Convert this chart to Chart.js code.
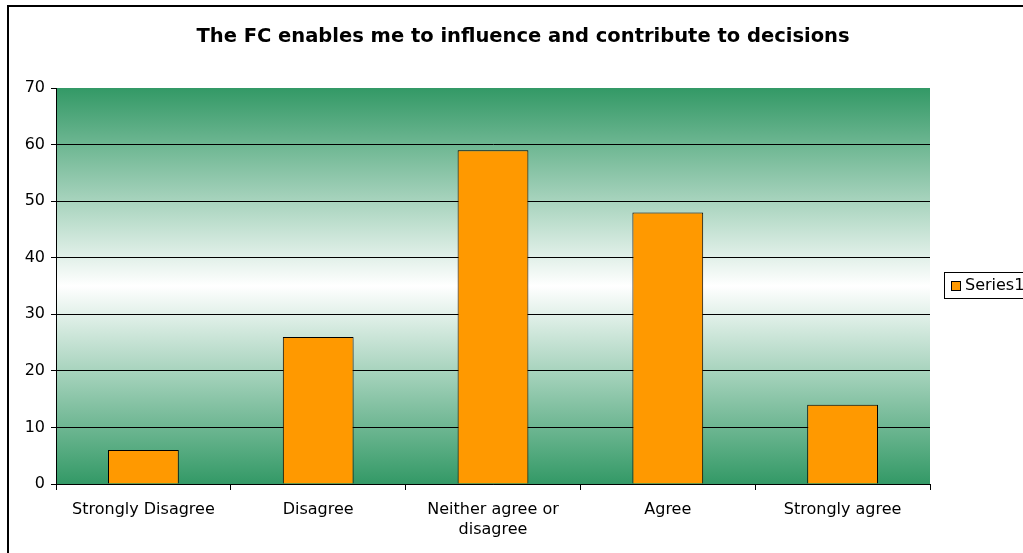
<!DOCTYPE html>
<html>
<head>
<meta charset="utf-8">
<script src="https://cdn.jsdelivr.net/npm/chart.js@4.4.1/dist/chart.umd.min.js"></script>
<style>
  html, body { margin: 0; padding: 0; background: #fff; }
  #wrap { position: relative; width: 1023px; height: 553px; }
</style>
</head>
<body>
<div id="wrap"><canvas id="c" width="1023" height="553"></canvas></div>
<script>
const TITLE = 'The FC enables me to influence and contribute to decisions';
const categories = ['Strongly Disagree', 'Disagree', ['Neither agree or', 'disagree'], 'Agree', 'Strongly agree'];
const seriesName = 'Series1';
const seriesValues = [6, 26, 59, 48, 14];
const yTicks = [0, 10, 20, 30, 40, 50, 60, 70];

const FONT = '"DejaVu Sans", Verdana, sans-serif';
const GREEN = 'rgb(51,153,102)';
const ORANGE = '#ff9900';

const decorPlugin = {
  id: 'decor',
  beforeDraw(chart) {
    const { ctx, chartArea: a } = chart;
    ctx.save();
    ctx.fillStyle = '#fff';
    ctx.fillRect(0, 0, chart.width, chart.height);
    const g = ctx.createLinearGradient(0, a.top, 0, a.bottom);
    g.addColorStop(0, GREEN);
    g.addColorStop(0.5, '#ffffff');
    g.addColorStop(1, GREEN);
    ctx.fillStyle = g;
    ctx.fillRect(a.left, a.top, a.right - a.left, a.bottom - a.top);
    ctx.restore();
  },
  afterDraw(chart) {
    const { ctx } = chart;
    ctx.save();
    // outer chart border
    ctx.strokeStyle = '#000';
    ctx.lineWidth = 2;
    ctx.strokeRect(8, 6, 2000, 2000);
    // title
    ctx.fillStyle = '#000';
    ctx.font = 'bold 19.5px ' + FONT;
    ctx.textAlign = 'center';
    ctx.textBaseline = 'middle';
    ctx.fillText(TITLE, 523, 37);
    // legend
    ctx.lineWidth = 1;
    ctx.strokeStyle = '#000';
    ctx.strokeRect(944.5, 272.5, 200, 26);
    ctx.fillStyle = ORANGE;
    ctx.fillRect(951.5, 281.5, 9, 9);
    ctx.strokeRect(951.5, 281.5, 9, 9);
    ctx.fillStyle = '#000';
    ctx.font = '16px ' + FONT;
    ctx.textAlign = 'left';
    ctx.fillText(chart.data.datasets[0].label, 965, 286);
    ctx.restore();
  }
};

new Chart(document.getElementById('c'), {
  type: 'bar',
  data: {
    labels: categories,
    datasets: [{
      label: seriesName,
      data: seriesValues,
      backgroundColor: ORANGE,
      borderColor: '#000',
      borderWidth: 1,
      barPercentage: 0.405,
      categoryPercentage: 1
    }]
  },
  options: {
    responsive: false,
    animation: false,
    layout: { padding: { left: 0, right: 93, top: 88, bottom: 0 } },
    plugins: {
      legend: { display: false },
      title: { display: false },
      tooltip: { enabled: false }
    },
    scales: {
      x: {
        grid: { offset: true, drawOnChartArea: false, drawTicks: true, tickLength: 6, color: '#000' },
        border: { color: '#000', width: 1 },
        ticks: { color: '#000', font: { family: FONT, size: 16, lineHeight: 1.3 }, padding: 9, maxRotation: 0, autoSkip: false },
        afterFit(s) { s.height = 69; }
      },
      y: {
        min: 0, max: 70,
        afterBuildTicks(s) { s.ticks = yTicks.map(v => ({ value: v })); },
        grid: {
          color: ctx => (ctx.tick && ctx.tick.value === 70) ? 'rgba(0,0,0,0)' : '#000',
          tickColor: '#000',
          tickLength: 5,
          lineWidth: 1
        },
        border: { color: '#000', width: 1 },
        ticks: { color: '#000', font: { family: FONT, size: 16 }, padding: 6 },
        afterFit(s) { s.width = 56; }
      }
    }
  },
  plugins: [decorPlugin]
});
</script>
</body>
</html>
